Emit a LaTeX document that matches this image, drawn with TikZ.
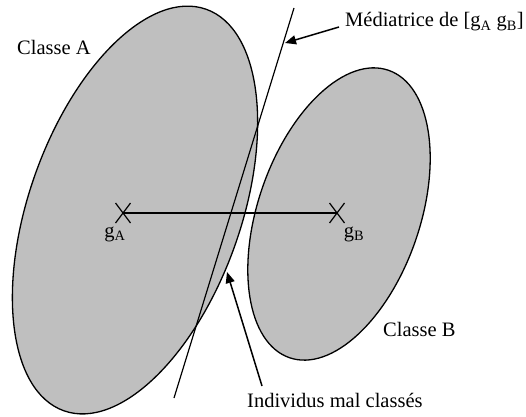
\documentclass[tikz,border=0pt]{standalone}
\usepackage{fontspec}
\setmainfont{Liberation Serif}
\usetikzlibrary{arrows.meta}
\begin{document}
\begin{tikzpicture}[x=1pt,y=1pt,
  classe/.style={draw=black,line width=1.3pt,fill=black!25},
  lbl/.style={font=\fontsize{20.5}{24}\selectfont,inner sep=0pt},
  fleche/.style={line width=1.5pt,-{Triangle[length=11pt,width=9pt]}},
  trait/.style={line width=1.2pt}]
\useasboundingbox (0,0) rectangle (526,416);
% ellipses
\coordinate (cA) at (135,206);
\coordinate (cB) at (339,202);
\draw[classe,rotate around={70.5:(cA)}] (cA) ellipse [x radius=213, y radius=106];
\draw[classe,rotate around={71:(cB)}] (cB) ellipse [x radius=152, y radius=81];
% centres
\coordinate (gA) at (123,203);
\coordinate (gB) at (337,203);
\draw[trait] (gA) -- (gB);
\draw[trait] ([shift={(-7.5,-10)}]gA) -- ([shift={(7.5,10)}]gA);
\draw[trait] ([shift={(-7.5,10)}]gA) -- ([shift={(7.5,-10)}]gA);
\draw[trait] ([shift={(-7.5,-10)}]gB) -- ([shift={(7.5,10)}]gB);
\draw[trait] ([shift={(-7.5,10)}]gB) -- ([shift={(7.5,-10)}]gB);
\node[lbl] (lgA) at (115,182) {g\textsubscript{A}};
\node[lbl] (lgB) at (354,182) {g\textsubscript{B}};
% mediatrice
\coordinate (mTop) at (294,408);
\coordinate (mBot) at (174,18);
\draw[trait] (mTop) -- (mBot);
% labels
\node[lbl,anchor=west] (cla) at (17,369) {Classe A};
\node[lbl,anchor=west] (clb) at (383,87) {Classe B};
\node[lbl,anchor=west] (med) at (345,394) {Médiatrice de [g\textsubscript{A} g\textsubscript{B}]};
\node[lbl,anchor=west] (ind) at (247,16) {Individus mal classés};
\coordinate (medTip) at (285,373);
\coordinate (indTip) at (227,144);
\draw[fleche] ([xshift=-6pt,yshift=-5pt]med.west) -- (medTip);
\draw[fleche] ([xshift=15pt,yshift=14pt]ind.west) -- (indTip);
\end{tikzpicture}
\end{document}
